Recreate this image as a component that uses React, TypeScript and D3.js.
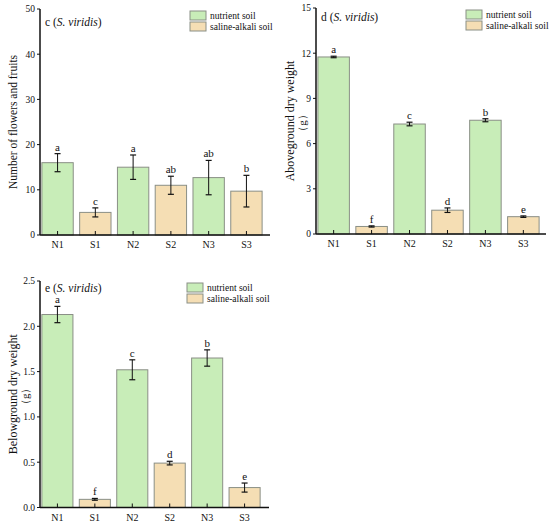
import { useEffect, useRef } from 'react';
import * as d3 from 'd3';

const categories = ['N1', 'S1', 'N2', 'S2', 'N3', 'S3'];
const soilType = ['nutrient', 'saline', 'nutrient', 'saline', 'nutrient', 'saline'];

const flowersMean = [16, 5, 15, 11, 12.7, 9.7];
const flowersErr = [2, 1, 2.7, 2, 3.8, 3.5];
const flowersLetters = ['a', 'c', 'a', 'ab', 'ab', 'b'];
const flowersTicks = [0, 10, 20, 30, 40, 50];

const aboveMean = [11.75, 0.5, 7.3, 1.58, 7.55, 1.15];
const aboveErr = [0.05, 0.04, 0.12, 0.15, 0.1, 0.05];
const aboveLetters = ['a', 'f', 'c', 'd', 'b', 'e'];
const aboveTicks = [0, 3, 6, 9, 12, 15];

const belowMean = [2.13, 0.09, 1.52, 0.49, 1.65, 0.22];
const belowErr = [0.09, 0.01, 0.11, 0.02, 0.09, 0.05];
const belowLetters = ['a', 'f', 'c', 'd', 'b', 'e'];
const belowTicks = [0, 0.5, 1.0, 1.5, 2.0, 2.5];

const legendLabels = ['nutrient soil', 'saline-alkali soil'];

const GREEN = '#c8edb8';
const TAN = '#f5deb4';
const FONT = '"Liberation Serif", "Times New Roman", serif';

interface PanelCfg {
  tag: string;
  x0: number;
  x1: number;
  bandEnd: number;
  yTop: number;
  yBase: number;
  mean: number[];
  err: number[];
  letters: string[];
  ticks: number[];
  tickFmt: (v: number) => string;
  yLabel: string;
  yLabelSize: number;
  yLabelX: number;
  unitX: number | null;
  titleY: number;
  legendX: number;
  legendY: number;
}

const panels: PanelCfg[] = [
  {
    tag: 'c', x0: 40, x1: 270, bandEnd: 264, yTop: 9, yBase: 235,
    mean: flowersMean, err: flowersErr, letters: flowersLetters, ticks: flowersTicks,
    tickFmt: d3.format('d'), yLabel: 'Number of flowers and fruits', yLabelSize: 11.5, yLabelX: 13, unitX: null,
    titleY: 26, legendX: 190, legendY: 11,
  },
  {
    tag: 'd', x0: 316, x1: 546, bandEnd: 541, yTop: 8, yBase: 234,
    mean: aboveMean, err: aboveErr, letters: aboveLetters, ticks: aboveTicks,
    tickFmt: d3.format('d'), yLabel: 'Aboveground dry weight', yLabelSize: 12, yLabelX: 290, unitX: 302,
    titleY: 21, legendX: 466, legendY: 10,
  },
  {
    tag: 'e', x0: 40, x1: 269, bandEnd: 262, yTop: 281, yBase: 507.5,
    mean: belowMean, err: belowErr, letters: belowLetters, ticks: belowTicks,
    tickFmt: d3.format('.1f'), yLabel: 'Belowground dry weight', yLabelSize: 12, yLabelX: 13, unitX: 25,
    titleY: 292, legendX: 187, legendY: 283,
  },
];

export default function App() {
  const svgRef = useRef<SVGSVGElement>(null);

  useEffect(() => {
    if (!svgRef.current) return;
    const svg = d3.select(svgRef.current);
    svg.selectAll('*').remove();

    panels.forEach(p => {
      const g = svg.append('g').attr('font-family', FONT);
      const maxV = p.ticks[p.ticks.length - 1];
      const y = d3.scaleLinear().domain([0, maxV]).range([p.yBase, p.yTop]);
      const x = d3.scaleBand().domain(categories).range([p.x0, p.bandEnd]).paddingInner(0.17).paddingOuter(0.05);

      // bars
      g.selectAll('.bar')
        .data(categories)
        .join('rect')
        .attr('x', d => x(d)!)
        .attr('width', x.bandwidth())
        .attr('y', (d, i) => y(p.mean[i]))
        .attr('height', (d, i) => p.yBase - y(p.mean[i]))
        .attr('fill', (d, i) => (soilType[i] === 'nutrient' ? GREEN : TAN))
        .attr('stroke', '#8a8f86')
        .attr('stroke-width', 1);

      // error bars + significance letters
      categories.forEach((c, i) => {
        const cx = x(c)! + x.bandwidth() / 2;
        const hi = y(p.mean[i] + p.err[i]);
        const lo = y(p.mean[i] - p.err[i]);
        g.append('line').attr('x1', cx).attr('x2', cx).attr('y1', hi).attr('y2', lo)
          .attr('stroke', '#111').attr('stroke-width', 1);
        [hi, lo].forEach(yy => {
          g.append('line').attr('x1', cx - 3).attr('x2', cx + 3).attr('y1', yy).attr('y2', yy)
            .attr('stroke', '#111').attr('stroke-width', 1.2);
        });
        g.append('text')
          .attr('x', cx)
          .attr('y', hi - 3)
          .attr('text-anchor', 'middle')
          .attr('font-size', 11)
          .attr('fill', '#111')
          .text(p.letters[i]);
      });

      // x axis
      g.append('line').attr('x1', p.x0).attr('x2', p.x1).attr('y1', p.yBase).attr('y2', p.yBase)
        .attr('stroke', '#111').attr('stroke-width', 1.5);
      categories.forEach(c => {
        const cx = x(c)! + x.bandwidth() / 2;
        g.append('line').attr('x1', cx).attr('x2', cx).attr('y1', p.yBase).attr('y2', p.yBase - 4)
          .attr('stroke', '#111').attr('stroke-width', 1);
        g.append('text')
          .attr('x', cx)
          .attr('y', p.yBase + 13)
          .attr('text-anchor', 'middle')
          .attr('font-size', 10)
          .attr('fill', '#111')
          .text(c);
      });

      // y axis
      g.append('line').attr('x1', p.x0).attr('x2', p.x0).attr('y1', p.yBase).attr('y2', p.yTop)
        .attr('stroke', '#111').attr('stroke-width', 1.5);
      p.ticks.forEach(t => {
        g.append('line').attr('x1', p.x0).attr('x2', p.x0 - 3).attr('y1', y(t)).attr('y2', y(t))
          .attr('stroke', '#111').attr('stroke-width', 1);
        g.append('text')
          .attr('x', p.x0 - 5)
          .attr('y', y(t))
          .attr('dy', '0.35em')
          .attr('text-anchor', 'end')
          .attr('font-size', 9.5)
          .attr('fill', '#111')
          .text(p.tickFmt(t));
      });

      // y label
      const midY = (p.yTop + p.yBase) / 2;
      g.append('text')
        .attr('transform', `translate(${p.yLabelX},${midY}) rotate(-90)`)
        .attr('text-anchor', 'middle')
        .attr('dy', '0.35em')
        .attr('font-size', p.yLabelSize)
        .attr('fill', '#111')
        .text(p.yLabel);
      if (p.unitX !== null) {
        g.append('text')
          .attr('transform', `translate(${p.unitX},${midY + 2}) rotate(-90)`)
          .attr('text-anchor', 'middle')
          .attr('dy', '0.35em')
          .attr('font-size', 11)
          .attr('fill', '#111')
          .text('（g）');
      }

      // panel title
      const title = g.append('text')
        .attr('x', p.x0 + 5)
        .attr('y', p.titleY)
        .attr('font-size', 11.5)
        .attr('fill', '#111');
      title.append('tspan').text(`${p.tag} (`);
      title.append('tspan').attr('font-style', 'italic').text('S. viridis');
      title.append('tspan').text(')');

      // legend
      legendLabels.forEach((lab, i) => {
        const ly = p.legendY + i * 11;
        g.append('rect')
          .attr('x', p.legendX)
          .attr('y', ly)
          .attr('width', 16)
          .attr('height', 9)
          .attr('fill', i === 0 ? GREEN : TAN)
          .attr('stroke', '#8a8f86')
          .attr('stroke-width', 1);
        g.append('text')
          .attr('x', p.legendX + 20)
          .attr('y', ly + 4.5)
          .attr('dy', '0.35em')
          .attr('font-size', 9.5)
          .attr('fill', '#111')
          .text(lab);
      });
    });
  }, []);

  return (
    <svg
      ref={svgRef}
      width={550}
      height={525}
      style={{ position: 'absolute', left: 0, top: 0, background: '#fff' }}
    />
  );
}
